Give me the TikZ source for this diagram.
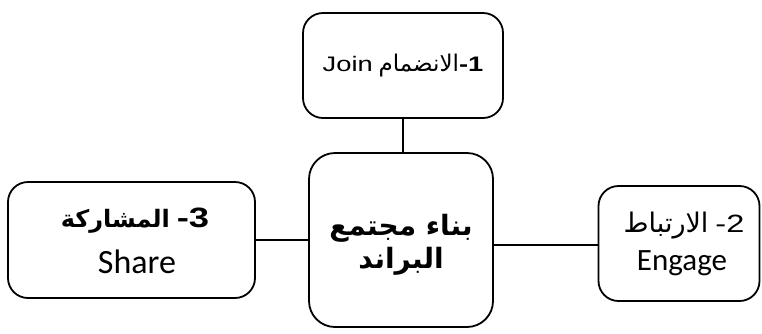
\documentclass[tikz,border=0pt]{standalone}
\usepackage{fontspec}
\setmainfont{Liberation Sans}
\newfontfamily\arabicfont[Script=Arabic]{DejaVu Sans}
\newfontfamily\calfont{Carlito}
\TeXXeTstate=1
\newcommand{\wide}[1]{\scalebox{1.3}[1]{#1}}
\begin{document}
\begin{tikzpicture}[x=1pt,y=-1pt,
  box/.style={draw=black, line width=1.8pt, rounded corners=#1, inner sep=0pt},
  box/.default=20pt,
  link/.style={draw=black, line width=1.8pt},
  txt/.style={inner sep=0pt, anchor=base}]
\useasboundingbox (0,0) rectangle (762,333);
% boxes
\node[box=20pt, minimum width=200pt, minimum height=105pt] (top) at (403,65.5) {};
\node[box=26pt, minimum width=184pt, minimum height=174pt] (ctr) at (401,240) {};
\node[box=20pt, minimum width=247pt, minimum height=116pt] (lft) at (131.5,240) {};
\node[box=20pt, minimum width=161pt, minimum height=115pt] (rgt) at (679,243.5) {};
% connectors
\draw[link] (top.south) -- (top.south |- ctr.north);
\draw[link] (lft.east) -- (lft.east -| ctr.west);
\path (rgt.west) ++(0,1.5) coordinate (rj);
\draw[link] (rj) -- (rj -| ctr.east);
% texts
\node[txt] (t1) at (403,71) {\fontsize{21}{24}\selectfont\wide{Join} {\arabicfont\fontsize{23}{26}\selectfont\beginR الانضمام\endR}\wide{\textbf{-1}}};
\node[txt] (c1) at (401,235) {\arabicfont\bfseries\fontsize{28}{32}\selectfont\beginR بناء مجتمع\endR};
\node[txt] (c2) at (401,268) {\arabicfont\bfseries\fontsize{28}{32}\selectfont\beginR البراند\endR};
\node[txt] (l1) at (135,227) {{\arabicfont\bfseries\fontsize{24}{28}\selectfont\beginR المشاركة\endR}\hspace{7pt}\wide{\textbf{\fontsize{28}{30}\selectfont -3}}};
\node[txt] (l2) at (137,273) {\calfont\fontsize{34}{38}\selectfont Share};
\node[txt] (r1) at (684,232) {{\arabicfont\fontsize{27}{30}\selectfont\beginR الارتباط\endR}\hspace{7pt}\wide{\fontsize{25}{28}\selectfont -2}};
\node[txt] (r2) at (682,270) {\calfont\fontsize{31}{34}\selectfont Engage};
\end{tikzpicture}
\end{document}
